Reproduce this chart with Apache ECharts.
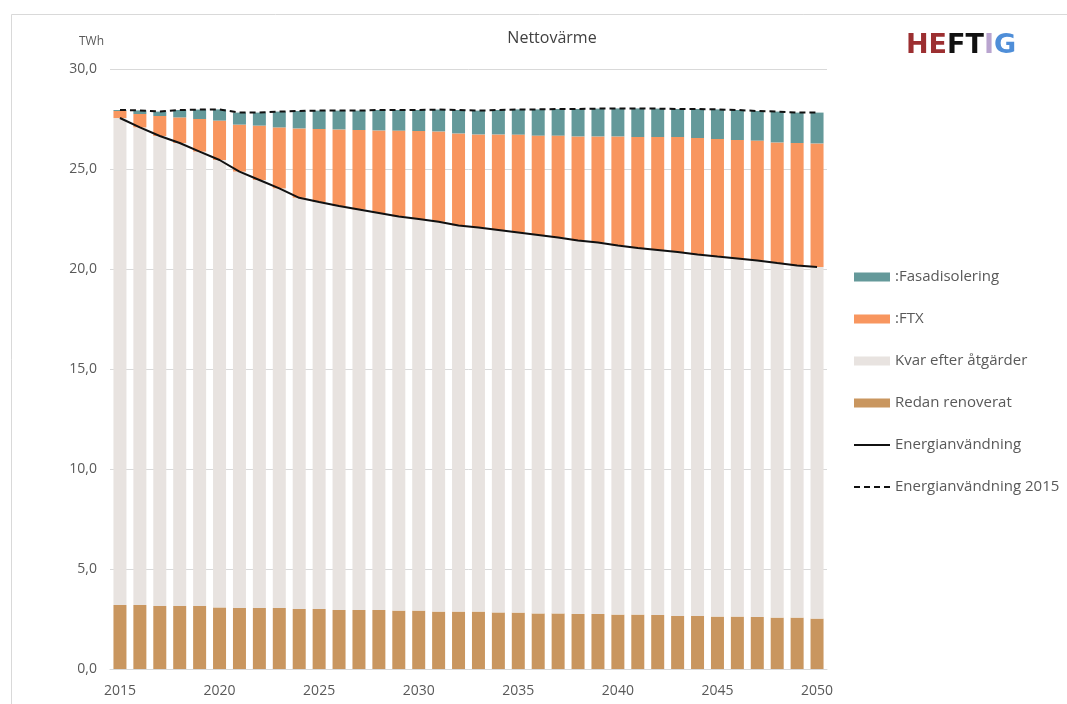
<!DOCTYPE html>
<html>
<head>
<meta charset="utf-8">
<script src="https://cdn.jsdelivr.net/npm/echarts@6/dist/echarts.min.js"></script>
<style>
  html, body { margin: 0; padding: 0; background: #ffffff; }
  #chart { width: 1067px; height: 704px; }
</style>
</head>
<body>
<div id="chart"></div>
<script>
// Years on the category axis
const years = [];
for (let y = 2015; y <= 2050; y++) years.push(String(y));

// Stacked components, TWh
const redanRenoverat = [3.20, 3.20, 3.15, 3.15, 3.15, 3.08, 3.05, 3.05, 3.05, 3.00, 3.00, 2.95,
  2.95, 2.95, 2.92, 2.92, 2.87, 2.87, 2.87, 2.83, 2.82, 2.78, 2.78, 2.75,
  2.75, 2.72, 2.72, 2.70, 2.65, 2.65, 2.62, 2.62, 2.60, 2.57, 2.57, 2.52];
const kvarEfterAtgarder = [24.35, 23.88, 23.50, 23.15, 22.72, 22.37, 21.82, 21.40, 20.98, 20.56, 20.35, 20.20,
  20.03, 19.85, 19.70, 19.58, 19.49, 19.31, 19.20, 19.12, 19.01, 18.92, 18.79, 18.68,
  18.57, 18.45, 18.33, 18.25, 18.20, 18.08, 18.00, 17.91, 17.83, 17.73, 17.61, 17.58];
const ftx = [0.35, 0.67, 1.00, 1.28, 1.63, 1.97, 2.35, 2.72, 3.05, 3.47, 3.65, 3.83,
  3.97, 4.13, 4.30, 4.40, 4.52, 4.60, 4.66, 4.78, 4.89, 4.97, 5.10, 5.20,
  5.31, 5.46, 5.55, 5.65, 5.75, 5.82, 5.88, 5.92, 5.99, 6.03, 6.12, 6.18];
const fasadisolering = [0.05, 0.18, 0.22, 0.37, 0.47, 0.56, 0.60, 0.65, 0.79, 0.87, 0.92, 0.94,
  0.97, 1.02, 1.03, 1.05, 1.09, 1.17, 1.19, 1.22, 1.26, 1.31, 1.33, 1.37,
  1.39, 1.40, 1.43, 1.42, 1.40, 1.45, 1.48, 1.50, 1.48, 1.54, 1.52, 1.54];

// Line series, TWh
const energianvandning = [27.55, 27.08, 26.65, 26.30, 25.87, 25.45, 24.87, 24.45, 24.03, 23.56, 23.35, 23.15,
  22.98, 22.80, 22.62, 22.50, 22.36, 22.18, 22.07, 21.95, 21.83, 21.70, 21.57, 21.43,
  21.32, 21.17, 21.05, 20.95, 20.85, 20.73, 20.62, 20.53, 20.43, 20.30, 20.18, 20.10];
const energianvandning2015 = [27.95, 27.93, 27.87, 27.95, 27.97, 27.98, 27.82, 27.82, 27.87, 27.90, 27.92, 27.92,
  27.92, 27.95, 27.95, 27.95, 27.97, 27.95, 27.92, 27.95, 27.98, 27.98, 28.00, 28.00,
  28.02, 28.03, 28.03, 28.02, 28.00, 28.00, 27.98, 27.95, 27.90, 27.87, 27.82, 27.82];

const FONT = 'Open Sans';
const TEXT = '#595959';

const chart = echarts.init(document.getElementById('chart'), null, { renderer: 'canvas' });

function barSeries(name, data, color) {
  return {
    name, type: 'bar', stack: 'total', data, barWidth: 13,
    itemStyle: { color }, emphasis: { disabled: true }, animation: false
  };
}

// legend entries for the lines: plain stroke, no marker
const noMarker = { color: 'rgba(0,0,0,0)', borderWidth: 0, opacity: 0 };

const logoStyle = { fontFamily: 'DejaVu Sans', fontWeight: 'bold', fontSize: 27 };

chart.setOption({
  animation: false,
  backgroundColor: '#ffffff',
  title: {
    text: 'Nettovärme', left: 547, top: 25, textAlign: 'center',
    textStyle: { fontFamily: FONT, fontSize: 16, fontWeight: 'normal', color: '#404040' }
  },
  graphic: [
    { type: 'rect', left: 9, top: 12, shape: { width: 1100, height: 720 },
      style: { fill: 'none', stroke: '#d9d9d9', lineWidth: 1 }, silent: true },
    { type: 'text', left: 79, top: 36,
      style: { text: 'TWh', fontFamily: FONT, fontSize: 12, fill: TEXT } },
    { type: 'text', left: 906, top: 32,
      style: {
        text: '{r|HE}{k|FT}{v|I}{b|G}',
        rich: {
          r: Object.assign({ fill: '#9c2f31' }, logoStyle),
          k: Object.assign({ fill: '#111111' }, logoStyle),
          v: Object.assign({ fill: '#b9a4cf' }, logoStyle),
          b: Object.assign({ fill: '#4f8ed8' }, logoStyle)
        }
      } }
  ],
  legend: {
    orient: 'vertical', left: 848, top: 262, itemGap: 22,
    itemWidth: 36, itemHeight: 9,
    textStyle: { fontFamily: FONT, fontSize: 15, color: TEXT, lineHeight: 20 },
    data: [
      { name: ':Fasadisolering', icon: 'rect' },
      { name: ':FTX', icon: 'rect' },
      { name: 'Kvar efter åtgärder', icon: 'rect' },
      { name: 'Redan renoverat', icon: 'rect' },
      { name: 'Energianvändning', itemStyle: noMarker },
      { name: 'Energianvändning 2015', itemStyle: noMarker }
    ],
    selectedMode: false
  },
  grid: { left: 110, right: 240, top: 69, bottom: 35, containLabel: false },
  xAxis: {
    type: 'category', data: years,
    axisLine: { show: true, lineStyle: { color: '#d9d9d9' } },
    axisTick: { show: false },
    axisLabel: { interval: 4, fontFamily: FONT, fontSize: 14, color: TEXT, margin: 15 }
  },
  yAxis: {
    type: 'value', min: 0, max: 30, interval: 5,
    axisLine: { show: false }, axisTick: { show: false },
    splitLine: { lineStyle: { color: '#d9d9d9' } },
    axisLabel: {
      fontFamily: FONT, fontSize: 14, color: TEXT, margin: 13,
      formatter: v => v.toFixed(1).replace('.', ',')
    }
  },
  series: [
    barSeries('Redan renoverat', redanRenoverat, '#c9965f'),
    barSeries('Kvar efter åtgärder', kvarEfterAtgarder, '#e8e3e0'),
    barSeries(':FTX', ftx, '#f8965f'),
    barSeries(':Fasadisolering', fasadisolering, '#64999a'),
    {
      name: 'Energianvändning', type: 'line', data: energianvandning,
      symbol: 'none', lineStyle: { color: '#111111', width: 2 }, itemStyle: { color: '#111111' },
      emphasis: { disabled: true }, z: 5
    },
    {
      name: 'Energianvändning 2015', type: 'line', data: energianvandning2015,
      symbol: 'none', lineStyle: { color: '#111111', width: 2, type: [6, 4] }, itemStyle: { color: '#111111' },
      emphasis: { disabled: true }, z: 5
    }
  ]
});
</script>
</body>
</html>
